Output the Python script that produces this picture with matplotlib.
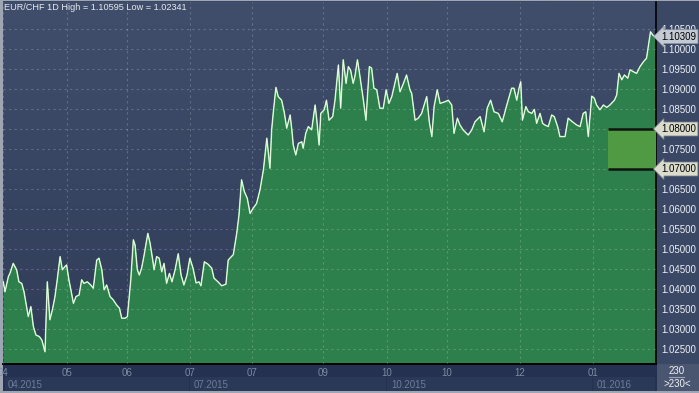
import numpy as np
import matplotlib
matplotlib.use("Agg")
import matplotlib.pyplot as plt
from matplotlib.patches import Rectangle
from matplotlib.transforms import blended_transform_factory as blend
from matplotlib.colors import LinearSegmentedColormap

# ---------------- data ----------------
bar_idx = [0.1, 0.7, 1.9, 2.5, 3.6, 4.8, 5.6, 6.6, 7.4, 8.3, 8.9, 9.8, 10.7, 11.6, 12.8, 13.7, 14.8,
           15.6, 16.5, 17.4, 18.3, 19.1, 20.1, 20.9, 21.8, 22.4, 23.2, 23.9, 24.8, 25.7, 26.8, 27.7,
           28.5, 29.7, 30.9, 31.8, 33.0, 33.8, 34.8, 35.6, 36.5, 37.7, 38.8, 40.0, 41.0, 41.8, 43.0,
           43.8, 45.0, 45.9, 46.5, 47.3, 48.0, 48.8, 49.6, 51.0, 51.8, 52.7, 53.2, 54.1, 55.0, 55.9,
           56.7, 57.6, 58.6, 59.5, 60.6, 61.7, 62.7, 63.7, 64.8, 65.8, 66.9, 68.0, 69.0, 69.7, 70.9,
           72.2, 73.5, 74.3, 75.7, 77.0, 78.5, 79.3, 79.9, 81.1, 82.3, 83.1, 84.0, 85.0, 86.0, 87.0,
           88.1, 89.3, 90.5, 91.7, 92.9, 93.4, 94.0, 94.6, 95.2, 96.1, 96.9, 98.1, 99.0, 99.9, 101.1,
           101.7, 102.2, 103.1, 104.0, 105.2, 105.7, 106.6, 107.5, 108.7, 109.9, 110.5, 111.3, 111.9,
           113.1, 113.9, 114.8, 116.1, 116.9, 118.1, 118.9, 119.8, 120.8, 121.6, 122.4, 123.3, 123.9,
           124.8, 125.7, 126.9, 127.8, 129.0, 129.8, 130.6, 131.6, 132.7, 133.9, 134.9, 135.9, 136.9,
           138.0, 138.8, 139.8, 141.0, 142.1, 143.3, 143.9, 145.1, 146.2, 147.4, 149.2, 150.1, 151.0,
           151.8, 152.9, 153.9, 155.6, 156.8, 158.0, 158.8, 160.0, 160.9, 162.1, 163.8, 165.0, 166.2,
           168.0, 169.4, 170.5, 171.7, 172.9, 174.4, 175.8, 177.4, 179.1, 179.9, 180.9, 181.7, 182.3,
           182.9, 184.1, 185.0, 186.2, 187.1, 187.9, 189.1, 190.0, 190.8, 192.0, 193.2, 194.1, 195.3,
           196.1, 197.9, 199.0, 200.5, 202.0, 203.2, 204.3, 205.2, 206.1, 207.3, 208.2, 209.0, 210.2,
           211.4, 212.6, 213.7, 215.3, 216.1, 216.9, 217.9, 218.8, 220.0, 220.8, 222.0, 223.1, 224.3,
           225.5, 226.6, 227.4, 228.0, 228.8, 229.4]
close = [1.0418, 1.0393, 1.0431, 1.0440, 1.0464, 1.0448, 1.0418, 1.0414, 1.0393, 1.0356, 1.0331,
         1.0356, 1.0306, 1.0285, 1.0281, 1.0272, 1.0243, 1.0418, 1.0323, 1.0348, 1.0381, 1.0423,
         1.0481, 1.0448, 1.0456, 1.0460, 1.0423, 1.0398, 1.0364, 1.0381, 1.0385, 1.0423, 1.0414,
         1.0418, 1.0410, 1.0402, 1.0472, 1.0477, 1.0448, 1.0398, 1.0410, 1.0381, 1.0373, 1.0360,
         1.0352, 1.0327, 1.0327, 1.0331, 1.0423, 1.0523, 1.0510, 1.0448, 1.0435, 1.0452, 1.0481,
         1.0539, 1.0514, 1.0473, 1.0448, 1.0481, 1.0477, 1.0443, 1.0464, 1.0414, 1.0439, 1.0418,
         1.0448, 1.0488, 1.0435, 1.0410, 1.0435, 1.0477, 1.0452, 1.0415, 1.0418, 1.0408, 1.0468,
         1.0462, 1.0452, 1.0427, 1.0418, 1.0408, 1.0412, 1.0472, 1.0477, 1.0486, 1.0539, 1.0585,
         1.0673, 1.0643, 1.0627, 1.0589, 1.0602, 1.0614, 1.0648, 1.0698, 1.0777, 1.0743, 1.0702,
         1.0798, 1.0843, 1.0904, 1.0881, 1.0872, 1.0843, 1.0802, 1.0835, 1.0798, 1.0760, 1.0735,
         1.0764, 1.0768, 1.0752, 1.0789, 1.0806, 1.0798, 1.0860, 1.0822, 1.0760, 1.0839, 1.0848,
         1.0872, 1.0822, 1.0831, 1.0872, 1.0960, 1.0852, 1.0973, 1.0914, 1.0956, 1.0947, 1.0914,
         1.0931, 1.0973, 1.0931, 1.0872, 1.0822, 1.0956, 1.0952, 1.0902, 1.0898, 1.0852, 1.0852,
         1.0898, 1.0864, 1.0881, 1.0914, 1.0939, 1.0893, 1.0914, 1.0935, 1.0898, 1.0889, 1.0822,
         1.0827, 1.0839, 1.0881, 1.0818, 1.0781, 1.0856, 1.0898, 1.0864, 1.0868, 1.0872, 1.0860,
         1.0789, 1.0827, 1.0810, 1.0797, 1.0785, 1.0797, 1.0818, 1.0831, 1.0793, 1.0852, 1.0872,
         1.0843, 1.0839, 1.0818, 1.0860, 1.0902, 1.0902, 1.0872, 1.0902, 1.0918, 1.0822, 1.0856,
         1.0843, 1.0839, 1.0849, 1.0814, 1.0839, 1.0814, 1.0810, 1.0806, 1.0835, 1.0831, 1.0806,
         1.0781, 1.0781, 1.0827, 1.0818, 1.0810, 1.0806, 1.0839, 1.0843, 1.0781, 1.0882, 1.0877,
         1.0860, 1.0848, 1.0860, 1.0854, 1.0860, 1.0872, 1.0885, 1.0939, 1.0923, 1.0935, 1.0927,
         1.0948, 1.0943, 1.0939, 1.0956, 1.0968, 1.0977, 1.1014, 1.1043, 1.1035, 1.10309]

title = "EUR/CHF 1D High = 1.10595 Low = 1.02341"
last_value = 1.10309
y_ticks = [1.025 + 0.005 * k for k in range(17)]
month_pos = [0, 22.4, 43.7, 65.8, 87.7, 112.7, 135.2, 156.3, 182.0, 207.7]
month_lbl = ["04", "05", "06", "07", "07", "09", "10", "10", "12", "01"]
quarter_pos = [0, 65.8, 135.2, 207.7]
quarter_lbl = ["04.2015", "07.2015", "10.2015", "01.2016"]
level_hi, level_lo = 1.08, 1.07
level_start = 213.0
bar_count = "230"

# ---------------- layout ----------------
W, H = 699, 393
fig = plt.figure(figsize=(W / 100, H / 100), dpi=100)
fig.patch.set_facecolor("#9ea6b4")
FONT = "Liberation Sans"
FS = 7.0
XMAX = 229.93
YMIN, YMAX = 1.02125, 1.11175


def fr(x0, y0, x1, y1):
    return [x0 / W, 1 - y1 / H, (x1 - x0) / W, (y1 - y0) / H]


def add_rect(x0, y0, x1, y1, col, z):
    fig.patches.append(Rectangle((x0 / W, 1 - y1 / H), (x1 - x0) / W, (y1 - y0) / H,
                                 transform=fig.transFigure, facecolor=col, edgecolor="none",
                                 zorder=z))


add_rect(3, 1, 699, 391, "#3a4866", -3)        # base / right panel
add_rect(3, 364, 657, 391, "#243150", -2)      # x-axis panel
add_rect(657, 364, 699, 391, "#4a5670", -2)    # bar count box
for i, p in enumerate(quarter_pos):
    x0 = 5 if i == 0 else 3 + p * 2.84
    x1 = (3 + quarter_pos[i + 1] * 2.84) if i + 1 < len(quarter_pos) else 656
    add_rect(x0, 377, x1 - 1, 391, "#2b3958", -1)

ax = fig.add_axes(fr(3, 2, 656, 364))
ax.set_zorder(1)
ax.set_xlim(0, XMAX)
ax.set_ylim(YMIN, YMAX)

grad = np.linspace(0, 1, 256).reshape(-1, 1)
cm = LinearSegmentedColormap.from_list("bg", ["#303c58", "#404e6c"])
ax.imshow(grad, extent=[0, 1, 0, 1], transform=ax.transAxes, origin="lower",
          aspect="auto", cmap=cm, zorder=0)

ax.fill_between(bar_idx, close, YMIN, color="#2d7f4b", lw=0, zorder=1)
ax.plot(bar_idx, close, color="#9ee29a", lw=1.1, zorder=3)
ax.plot(bar_idx, close, color="#ffffff", lw=0.5, zorder=3.1)

ax.fill_between([level_start, XMAX], level_lo, level_hi, color="#4f9a42", lw=0, zorder=3.5)
ax.hlines([level_hi, level_lo], level_start, XMAX, colors="#101410", lw=1.8, zorder=3.6)

ax.set_yticks(y_ticks)
ax.set_xticks(month_pos)
ax.grid(True, color="#ffffff", alpha=0.2, lw=0.8, linestyle=(0, (2, 3)))
ax.set_axisbelow(False)

ax.yaxis.tick_right()
ax.set_yticklabels([f"{v:.5f}" for v in y_ticks], fontfamily=FONT, fontsize=FS, color="#eef0f4")
ax.tick_params(axis="y", length=0, pad=4)
ax.set_xticklabels(month_lbl, fontfamily=FONT, fontsize=FS, color="#7c8aa4")
ax.tick_params(axis="x", length=0, pad=3)

for s in ["top", "left"]:
    ax.spines[s].set_visible(False)
ax.spines["right"].set_color("#000000")
ax.spines["right"].set_linewidth(1.2)
ax.spines["bottom"].set_color("#000000")
ax.spines["bottom"].set_linewidth(1.4)

tr = blend(ax.transData, fig.transFigure)
for p, l in zip(quarter_pos, quarter_lbl):
    off = 1.8 if p == 0 else 1.4
    ax.text(p + off, 1 - 384.5 / H, l, transform=tr, fontfamily=FONT, fontsize=FS,
            color="#6e7c98", ha="left", va="center", clip_on=False)

fig.text(4 / W, 1 - 8 / H, title, fontfamily=FONT, fontsize=6.6, color="#e6e9ee",
         ha="left", va="center", zorder=5)

trY = blend(ax.transAxes, ax.transData)
for v, fc in [(last_value, "#c4cad4"), (level_hi, "#dcdccc"), (level_lo, "#dcdccc")]:
    ax.text(1.0 + 5 / 653, v, f"{v:.5f}", transform=trY, fontfamily=FONT, fontsize=FS,
            color="#000000", ha="left", va="center", clip_on=False, zorder=10,
            bbox=dict(boxstyle="larrow,pad=0.2", fc=fc, ec="#8a8f98", lw=0.5))

fig.text(677 / W, 1 - 371 / H, bar_count, fontfamily=FONT, fontsize=FS, color="#f0f2f6",
         ha="center", va="center", zorder=5)
fig.add_artist(plt.Line2D([669 / W, 684 / W], [1 - 377 / H, 1 - 377 / H], color="#9aa4b8",
                          lw=0.8, zorder=5))
fig.text(677 / W, 1 - 384 / H, ">" + bar_count + "<", fontfamily=FONT, fontsize=FS,
         color="#f0f2f6", ha="center", va="center", zorder=5)

fig.savefig("out.png", dpi=100, facecolor=fig.get_facecolor())
